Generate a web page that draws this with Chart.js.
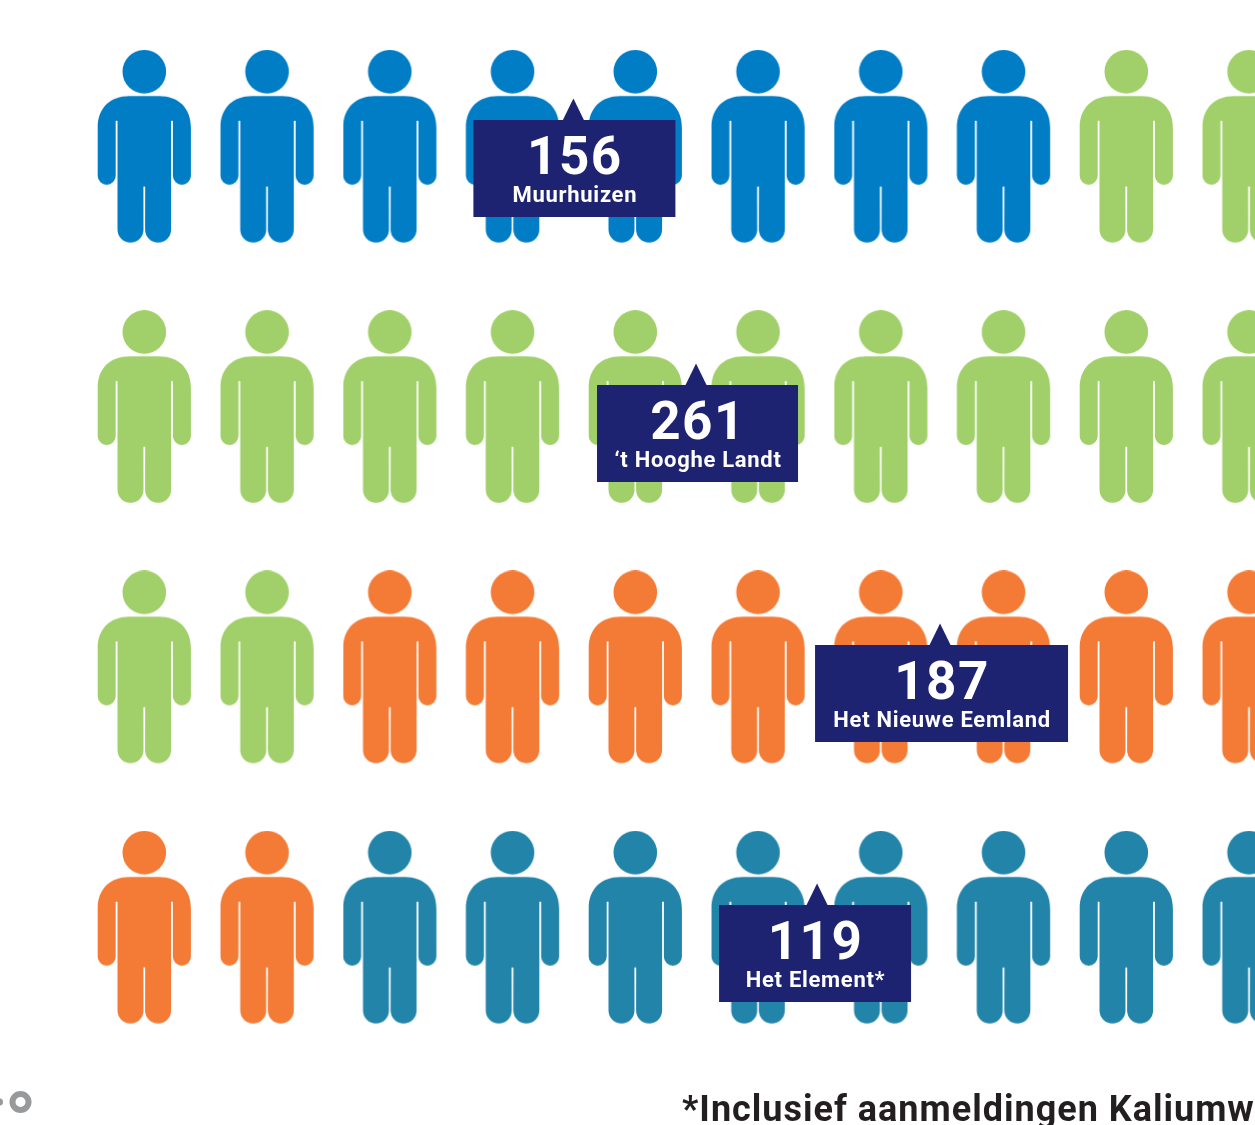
<!DOCTYPE html>
<html><head><meta charset="utf-8">
<style>html,body{margin:0;padding:0;background:#fff;overflow:hidden}canvas{display:block}</style>
<script src="https://cdn.jsdelivr.net/npm/chart.js@4"></script></head>
<body><div style="width:1255px;height:1125px"><canvas id="c" width="1255" height="1125"></canvas></div>
<script>
const schools = ["Muurhuizen", "'t Hooghe Landt", "Het Nieuwe Eemland", "Het Element*"];
const schoolLabels = ["Muurhuizen", "\u2018t Hooghe Landt", "Het Nieuwe Eemland", "Het Element*"];
const aanmeldingen = [156, 261, 187, 119];
const iconCounts = [8, 14, 10, 8];
const iconColours = ["#007dc5", "#a1d06a", "#f47b36", "#2384a9"];
const footnote = "*Inclusief aanmeldingen Kaliumw";
const iconsPerRow = 10;

// Callout anchor in data units (column, row), box extents in pixels.
const calloutCols = [3.49, 4.489, 6.477, 5.475];
const calloutRows = [0, 1, 2, 3];
const calloutLeft = [100, 99, 125, 98];
const calloutRight = [102, 102, 128, 94];
const calloutRise = [26.8, 22.1, 22.4, 22.7];

function personIcon(colour) {
  const c = document.createElement('canvas');
  c.width = 96; c.height = 194;
  const g = c.getContext('2d');
  const cx = 47.3, oy = -50;     // body centre, top offset
  const Y = v => v + oy;
  g.fillStyle = colour;
  g.beginPath(); g.arc(cx, Y(71.9), 21.8, 0, Math.PI * 2); g.fill();
  g.beginPath();
  const side = s => {
    const X = d => cx + s * d;
    return X;
  };
  const R = side(1), L = side(-1);
  g.moveTo(L(15), Y(96.3));
  g.lineTo(R(15), Y(96.3));
  g.bezierCurveTo(R(34), Y(96.3), R(46.6), Y(108), R(46.6), Y(128));
  g.lineTo(R(46.6), Y(176));
  g.arc(R(37.6), Y(176), 9, 0, Math.PI);
  g.lineTo(R(28.6), Y(121));
  g.lineTo(R(26.8), Y(121));
  g.lineTo(R(26.8), Y(229.7));
  g.arc(R(13.8), Y(229.7), 13, 0, Math.PI);
  g.lineTo(R(0.9), Y(186.7));
  g.lineTo(L(0.9), Y(186.7));
  g.lineTo(L(0.8), Y(229.7));
  g.arc(L(13.8), Y(229.7), 13, 0, Math.PI);
  g.lineTo(L(26.8), Y(121));
  g.lineTo(L(28.6), Y(121));
  g.lineTo(L(28.6), Y(176));
  g.arc(L(37.6), Y(176), 9, 0, Math.PI);
  g.lineTo(L(46.6), Y(128));
  g.bezierCurveTo(L(46.6), Y(108), L(34), Y(96.3), L(15), Y(96.3));
  g.closePath(); g.fill();
  return c;
}

let idx = 0;
const datasets = schools.map((name, i) => {
  const pts = [];
  for (let k = 0; k < iconCounts[i]; k++, idx++) {
    pts.push({ x: idx % iconsPerRow, y: Math.floor(idx / iconsPerRow) });
  }
  return { label: name, data: pts, pointStyle: personIcon(iconColours[i]), pointRadius: 48, pointHoverRadius: 48, showLine: false, clip: false };
});

const overlay = {
  id: 'overlay',
  afterDatasetsDraw(chart) {
    const { ctx, scales: { x, y } } = chart;
    ctx.save();
    schools.forEach((_, i) => {
      const ax = x.getPixelForValue(calloutCols[i]);
      const top = y.getPixelForValue(calloutRows[i]) - calloutRise[i];
      const l = ax - calloutLeft[i], r = ax + calloutRight[i];
      ctx.fillStyle = '#1d2271';
      ctx.fillRect(l, top, r - l, 97);
      ctx.beginPath();
      ctx.moveTo(ax - 11, top + 1); ctx.lineTo(ax, top - 21.5); ctx.lineTo(ax + 11, top + 1);
      ctx.closePath(); ctx.fill();
      const mid = (l + r) / 2 + 0.5;
      ctx.fillStyle = '#fff';
      ctx.textAlign = 'center';
      ctx.textBaseline = 'alphabetic';
      ctx.letterSpacing = '1.5px';
      ctx.font = 'bold 53px Roboto';
      ctx.fillText(String(aanmeldingen[i]), mid, top + 53.5);
      ctx.letterSpacing = '0.7px';
      ctx.font = 'bold 22px Roboto';
      ctx.fillText(schoolLabels[i], mid, top + 81.5);
    });
    ctx.fillStyle = '#231f20';
    ctx.textAlign = 'left';
    ctx.letterSpacing = '1px';
    ctx.font = 'bold 36px Roboto';
    ctx.fillText(footnote, 682, 1121);
    ctx.letterSpacing = '0px';
    ctx.strokeStyle = '#98999b';
    ctx.fillStyle = '#98999b';
    ctx.lineWidth = 6;
    ctx.beginPath(); ctx.arc(20.5, 1102, 8, 0, Math.PI * 2); ctx.stroke();
    ctx.beginPath(); ctx.arc(-0.5, 1102, 3.5, 0, Math.PI * 2); ctx.fill();
    ctx.restore();
  }
};

new Chart(document.getElementById('c'), {
  type: 'scatter',
  data: { datasets },
  options: {
    responsive: false, animation: false, events: [],
    layout: { padding: 0, autoPadding: false },
    plugins: { legend: { display: false }, tooltip: { enabled: false } },
    scales: {
      x: { display: false, min: -145 / 122.75, max: (1255 - 145) / 122.75 },
      y: { display: false, reverse: true, min: -146.8 / 260.3, max: (1125 - 146.8) / 260.3 }
    }
  },
  plugins: [overlay]
});
</script></body></html>
